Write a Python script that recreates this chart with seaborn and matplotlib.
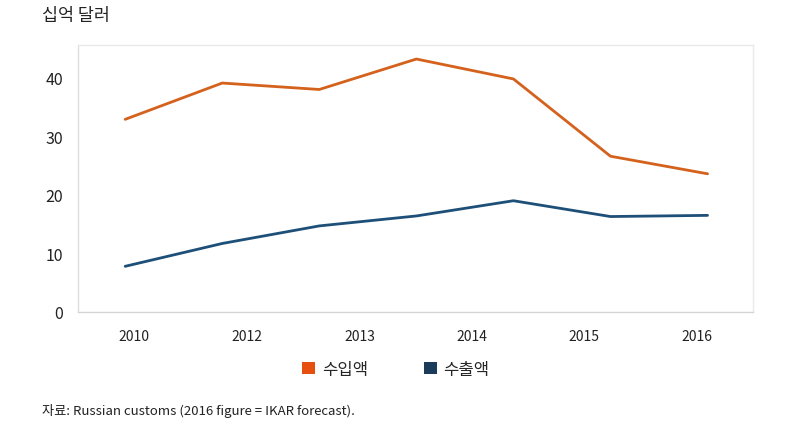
import numpy as np
import pandas as pd
import matplotlib.pyplot as plt
import seaborn as sns
from matplotlib.patches import Patch

# values (billion USD)
point_idx = [0, 1, 2, 3, 4, 5, 6]
imports = [32.9, 39.1, 38.0, 43.2, 39.8, 26.6, 23.6]
exports = [7.8, 11.7, 14.7, 16.4, 19.0, 16.3, 16.5]
year_labels = ['2010', '2012', '2013', '2014', '2015', '2016']
series_names = ['수입액', '수출액']

df = pd.DataFrame({
    'idx': point_idx * 2,
    'value': imports + exports,
    'series': [series_names[0]] * len(imports) + [series_names[1]] * len(exports),
})

sns.set_style('white')
plt.rcParams['font.family'] = ['Noto Sans CJK KR', 'DejaVu Sans']

line_colors = {'수입액': '#D4611C', '수출액': '#1D4F78'}
legend_colors = {'수입액': '#E5500E', '수출액': '#1B3B5A'}

fig = plt.figure(figsize=(7.97, 4.35), dpi=100)
ax = fig.add_axes([0.098, 0.2805, 0.847, 0.6138])

sns.lineplot(data=df, x='idx', y='value', hue='series', palette=line_colors,
             linewidth=2.0, ax=ax, legend=False)

ax.set_xlim(-0.485, 6.47)
ax.set_ylim(0, 45.6)
ax.set_yticks([0, 10, 20, 30, 40])

# labels sit at the centres of six equal slots across the axis
edges = np.linspace(-0.485, 6.47, len(year_labels) + 1)
ax.set_xticks((edges[:-1] + edges[1:]) / 2)
ax.set_xticklabels(year_labels)

ax.tick_params(axis='y', labelsize=11.5, length=5, color='#E0E0E0', pad=6, labelcolor='#222222')
ax.tick_params(axis='x', labelsize=10, length=0, pad=12, labelcolor='#222222')
ax.set_xlabel('')
ax.set_ylabel('')
for s in ax.spines.values():
    s.set_color('#EAEAEA')
    s.set_linewidth(1.0)
ax.spines['bottom'].set_color('#D5D5D5')
ax.spines['left'].set_color('#DDDDDD')

fig.text(0.053, 0.963, '십억 달러', fontsize=12.5, va='center', ha='left', color='#222222')

handles = [Patch(facecolor=legend_colors[n], edgecolor='none') for n in series_names]
fig.legend(handles, series_names, loc='center', bbox_to_anchor=(0.497, 0.148), ncol=2,
           frameon=False, fontsize=12, handlelength=0.75, handleheight=0.75,
           handletextpad=0.4, columnspacing=3.4)

fig.text(0.053, 0.055, '자료: Russian customs (2016 figure = IKAR forecast).',
         fontsize=9.5, va='center', ha='left', color='#222222')

fig.savefig('out.png', dpi=100)
